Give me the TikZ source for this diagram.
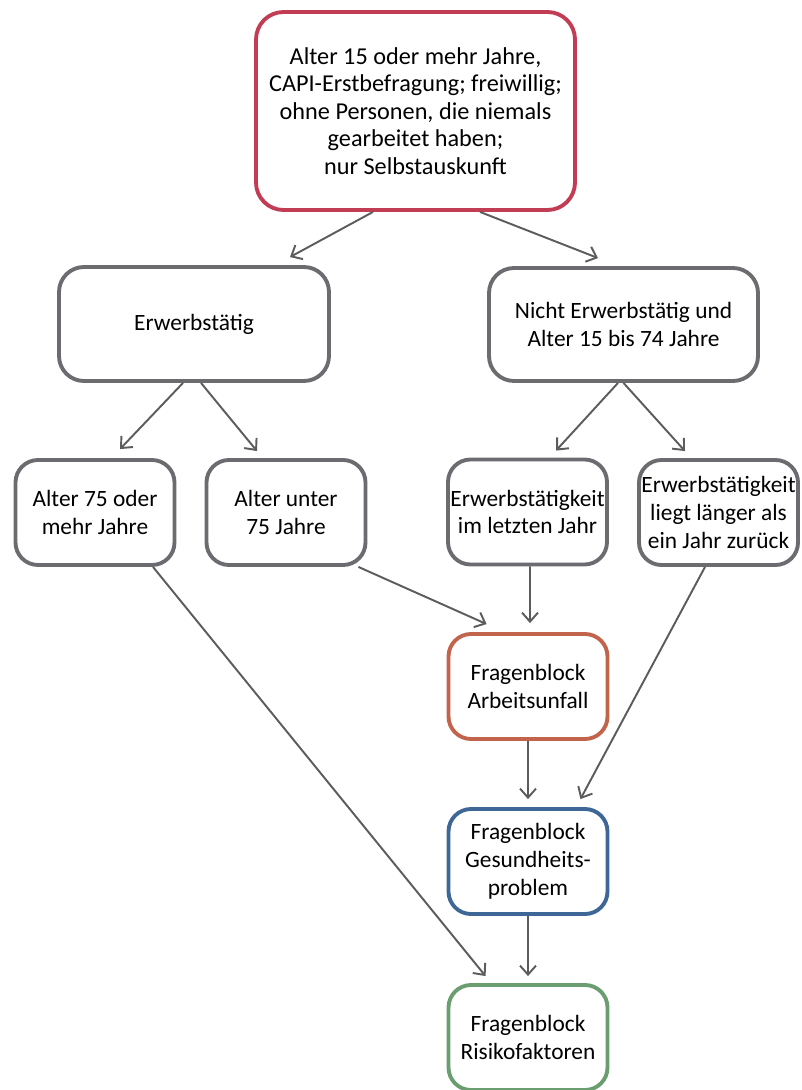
\documentclass[tikz,border=0pt]{standalone}
\usepackage{fontspec}
\setmainfont{Carlito}
\usetikzlibrary{arrows.meta}
\definecolor{frageRot}{RGB}{194,60,84}
\definecolor{frageGrau}{RGB}{108,108,112}
\definecolor{frageOrange}{RGB}{194,100,76}
\definecolor{frageBlau}{RGB}{62,102,150}
\definecolor{frageGruen}{RGB}{106,158,112}
\definecolor{pfeilGrau}{RGB}{92,92,94}

\begin{document}
\begin{tikzpicture}[
  font=\fontsize{13.3}{15.8}\selectfont,
  box/.style={draw=frageGrau, line width=2.2pt, rounded corners=4.5mm, fill=white,
              align=center, inner sep=1pt, minimum width=3.18cm, minimum height=2.1cm},
  arr/.style={-{Straight Barb[length=1.8mm,width=3.2mm]}, line width=1.1pt, draw=pfeilGrau}
]
\useasboundingbox (0,0) rectangle (16.02,-21.8);

\node[box, draw=frageRot, rounded corners=5.5mm, minimum width=6.38cm, minimum height=3.96cm,
      font=\fontsize{13.8}{15.6}\selectfont]
      (start) at (8.31,-2.22)
      {Alter 15 oder mehr Jahre,\\CAPI-Erstbefragung; freiwillig;\\ohne Personen, die niemals\\gearbeitet haben;\\nur Selbstauskunft};

\node[box, rounded corners=5mm, minimum width=5.4cm, minimum height=2.28cm]
      (erw) at (3.88,-6.48) {Erwerbstätig};
\node[box, rounded corners=5mm, minimum width=5.38cm, minimum height=2.26cm]
      (nerw) at (12.47,-6.49) {Nicht Erwerbstätig und\\Alter 15 bis 74 Jahre};

\node[box] (alt75)  at (1.90,-10.25)  {Alter 75 oder\\mehr Jahre};
\node[box] (altu75) at (5.72,-10.25)  {Alter unter\\75 Jahre};
\node[box] (letzt)  at (10.55,-10.24) {Erwerbstätigkeit\\im letzten Jahr};
\node[box] (laeng)  at (14.37,-10.25) {Erwerbstätigkeit\\liegt länger als\\ein Jahr zurück};

\node[box, draw=frageOrange] (unfall) at (10.56,-13.73) {Fragenblock\\Arbeitsunfall};
\node[box, draw=frageBlau]   (gesund) at (10.56,-17.23) {Fragenblock\\Gesundheits-\\problem};
\node[box, draw=frageGruen]  (risiko) at (10.56,-20.75) {Fragenblock\\Risikofaktoren};

% Verzweigungen
\draw[arr] ([xshift=-0.85cm]start.south) -- ([xshift=1.92cm,yshift=0.16cm]erw.north);
\draw[arr] ([xshift=1.29cm]start.south)  -- ([xshift=-0.51cm,yshift=0.16cm]nerw.north);
\draw[arr] ([xshift=-0.22cm]erw.south)   -- ([xshift=0.5cm,yshift=0.18cm]alt75.north);
\draw[arr] ([xshift=0.14cm]erw.south)    -- ([xshift=-0.58cm,yshift=0.14cm]altu75.north);
\draw[arr] ([xshift=-0.11cm]nerw.south)  -- ([xshift=0.57cm,yshift=0.14cm]letzt.north);
\draw[arr] (nerw.south)                  -- ([xshift=-0.67cm,yshift=0.14cm]laeng.north);

% Fragenbloecke
\draw[arr] ([xshift=-0.18cm]altu75.south east) -- ([xshift=0.8cm,yshift=0.16cm]unfall.north west);
\draw[arr] ([xshift=0.05cm]letzt.south)        -- ([xshift=0.04cm,yshift=0.18cm]unfall.north);
\draw[arr] (unfall.south)                      -- ([yshift=0.16cm]gesund.north);
\draw[arr] ([xshift=-0.27cm]laeng.south)       -- ([xshift=-0.58cm,yshift=0.16cm]gesund.north east);
\draw[arr] ([xshift=1.16cm]alt75.south)        -- ([xshift=0.78cm,yshift=0.14cm]risiko.north west);
\draw[arr] (gesund.south)                      -- ([yshift=0.14cm]risiko.north);
\end{tikzpicture}
\end{document}
